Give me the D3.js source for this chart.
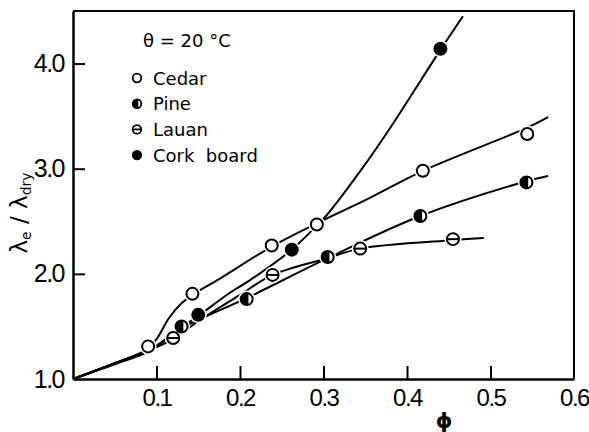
<!DOCTYPE html>
<html>
<head>
<meta charset="utf-8">
<script src="https://cdn.jsdelivr.net/npm/d3@7"></script>
<style>
  html, body { margin: 0; padding: 0; background: #fff; }
  svg { display: block; }
  .tick text { font-family: "Liberation Sans Narrow", "Liberation Sans", sans-serif; fill: #000; }
  .lbl { font-family: "DejaVu Sans", sans-serif; fill: #000; }
</style>
</head>
<body>
<svg id="chart" width="589" height="432"></svg>
<script>
// Measured points: [phi, lambda_e / lambda_dry]
const cedarPts = [[0.090, 1.31], [0.143, 1.81], [0.238, 2.27], [0.292, 2.47], [0.419, 2.98], [0.544, 3.33]];
const pinePts  = [[0.130, 1.50], [0.208, 1.76], [0.305, 2.16], [0.416, 2.55], [0.543, 2.87]];
const lauanPts = [[0.120, 1.39], [0.239, 1.99], [0.344, 2.24], [0.455, 2.33]];
const corkPts  = [[0.150, 1.61], [0.262, 2.23], [0.440, 4.14]];

// Hand-fitted curves through each material's data
const cedarFit = [[0, 1], [0.05, 1.15], [0.088, 1.28], [0.1, 1.38], [0.115, 1.58], [0.13, 1.72],
                  [0.145, 1.81], [0.175, 1.95], [0.238, 2.26], [0.292, 2.48], [0.355, 2.72],
                  [0.419, 2.98], [0.544, 3.39], [0.569, 3.49]];
const pineFit  = [[0, 1], [0.05, 1.14], [0.09, 1.26], [0.13, 1.48], [0.152, 1.57], [0.208, 1.77],
                  [0.305, 2.15], [0.416, 2.55], [0.543, 2.88], [0.569, 2.93]];
const lauanFit = [[0, 1], [0.05, 1.15], [0.09, 1.27], [0.12, 1.38], [0.15, 1.55], [0.2, 1.8],
                  [0.239, 1.99], [0.305, 2.15], [0.344, 2.24], [0.455, 2.32], [0.492, 2.34]];
const corkFit  = [[0, 1], [0.05, 1.15], [0.09, 1.27], [0.13, 1.49], [0.15, 1.6], [0.188, 1.82],
                  [0.212, 1.94], [0.262, 2.23], [0.292, 2.46], [0.304, 2.56], [0.347, 3.01],
                  [0.38, 3.39], [0.44, 4.13], [0.467, 4.45]];

const xTicks = [0.1, 0.2, 0.3, 0.4, 0.5, 0.6];
const yTicks = [1.0, 2.0, 3.0, 4.0];
const legendNames = ["Cedar", "Pine", "Lauan", "Cork  board"];
const markerKinds = ["open", "half", "theta", "filled"];

const svg = d3.select("#chart");
const x = d3.scaleLinear().domain([0, 0.6]).range([73, 574]);
const y = d3.scaleLinear().domain([1, 4.5]).range([379, 11]);

// frame (top and right sides)
svg.append("path")
  .attr("d", `M${x(0)},${y(4.5)}H${x(0.6)}V${y(1)}`)
  .attr("fill", "none").attr("stroke", "#000").attr("stroke-width", 2);

// axes with inward ticks
const xAxis = d3.axisBottom(x).tickValues(xTicks).tickSizeInner(-13).tickSizeOuter(0)
  .tickPadding(10).tickFormat(d3.format(".1f"));
const gx = svg.append("g").attr("transform", `translate(0,${y(1)})`).call(xAxis);
gx.select(".domain").attr("stroke-width", 2.5);
gx.selectAll(".tick line").attr("stroke-width", 2).filter(d => d === 0.6).remove();
gx.selectAll(".tick text").attr("font-size", 24).attr("letter-spacing", -1.5);

const yAxis = d3.axisLeft(y).tickValues(yTicks).tickSizeInner(-12).tickSizeOuter(0)
  .tickPadding(9).tickFormat(d3.format(".1f"));
const gy = svg.append("g").attr("transform", `translate(${x(0)},0)`).call(yAxis);
gy.select(".domain").attr("stroke-width", 2.5);
gy.selectAll(".tick line").attr("stroke-width", 2).filter(d => d === 1).remove();
gy.selectAll(".tick text").attr("font-size", 25).attr("letter-spacing", -1.5);

// fitted curves
const line = d3.line().x(d => x(d[0])).y(d => y(d[1])).curve(d3.curveCatmullRom.alpha(0.5));
[cedarFit, pineFit, lauanFit, corkFit].forEach(f => {
  svg.append("path").attr("d", line(f)).attr("fill", "none")
    .attr("stroke", "#000").attr("stroke-width", 2);
});

function drawMarker(g, kind, r, sw) {
  if (kind === "filled") {
    g.append("circle").attr("r", r).attr("fill", "#000").attr("stroke", "#000").attr("stroke-width", sw);
    return;
  }
  g.append("circle").attr("r", r).attr("fill", "#fff").attr("stroke", "#000").attr("stroke-width", sw);
  if (kind === "half") {
    const x0 = 0.3 * r, h = Math.sqrt(r * r - x0 * x0);
    g.append("path").attr("d", `M${x0},${-h}A${r},${r} 0 1 0 ${x0},${h}Z`).attr("fill", "#000");
  } else if (kind === "theta") {
    g.append("line").attr("x1", -r).attr("x2", r).attr("stroke", "#000").attr("stroke-width", sw);
  }
}

// markers with a white gap around them
const sets = [cedarPts, pinePts, lauanPts, corkPts];
sets.forEach(pts => {
  pts.forEach(p => {
    svg.append("circle").attr("cx", x(p[0])).attr("cy", y(p[1])).attr("r", 8.5).attr("fill", "#fff");
  });
});
sets.forEach((pts, i) => {
  pts.forEach(p => {
    const g = svg.append("g").attr("transform", `translate(${x(p[0])},${y(p[1])})`);
    drawMarker(g, markerKinds[i], 6, 2);
  });
});

// temperature note and legend
svg.append("text").attr("class", "lbl").attr("x", 143).attr("y", 47)
  .attr("font-size", 18).text("θ = 20 °C");
legendNames.forEach((name, i) => {
  const cy = 78 + i * 25.7;
  const g = svg.append("g").attr("transform", `translate(137,${cy})`);
  drawMarker(g, markerKinds[i], 4.3, 1.8);
  svg.append("text").attr("class", "lbl").attr("x", 153).attr("y", cy + 6.5)
    .attr("font-size", 18).style("white-space", "pre").text(name);
});

// axis titles
svg.append("text").attr("class", "lbl").attr("x", 444).attr("y", 428)
  .attr("text-anchor", "middle").attr("font-size", 21).attr("font-weight", "bold").text("ϕ");

const yl = svg.append("text").attr("class", "lbl")
  .attr("transform", "translate(27,213) rotate(-90)")
  .attr("text-anchor", "middle").attr("font-size", 23);
yl.append("tspan").text("λ");
yl.append("tspan").attr("font-size", 14).attr("dy", 4).text("e");
yl.append("tspan").attr("dy", -4).text(" / λ");
yl.append("tspan").attr("font-size", 14).attr("dy", 4).text("dry");
</script>
</body>
</html>
